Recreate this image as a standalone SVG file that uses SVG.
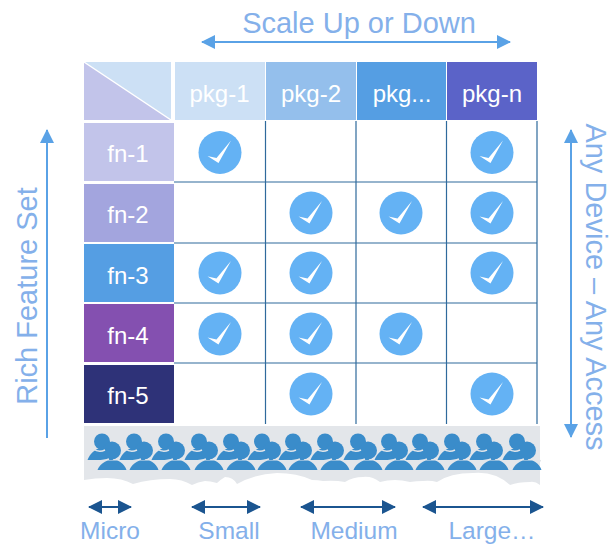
<svg xmlns="http://www.w3.org/2000/svg" width="613" height="545" viewBox="0 0 613 545">
<style>
text{font-family:"Liberation Sans",Arial,sans-serif}
.h{font-size:24px;fill:#fff;text-anchor:middle}
.l{font-size:29px;fill:#84b0ea;text-anchor:middle}
.s{font-size:24.500px;fill:#84b0ea;text-anchor:middle}
.g{stroke:#2f6a9c;stroke-width:1.200;fill:none}
.a{stroke:#5aa2e6;stroke-width:2;fill:none}
.d{stroke:#1b5590;stroke-width:2;fill:none}
</style>
<defs>
<marker id="ah" markerUnits="userSpaceOnUse" viewBox="0 0 14 14" refX="13" refY="7" markerWidth="14" markerHeight="14" orient="auto-start-reverse"><path d="M0 0L14 7L0 14Z" fill="#5aa2e6"/></marker>
<marker id="dh" markerUnits="userSpaceOnUse" viewBox="0 0 14 14" refX="13" refY="7" markerWidth="14" markerHeight="14" orient="auto-start-reverse"><path d="M0 0L14 7L0 14Z" fill="#1b5590"/></marker>
<g id="check"><circle r="21.500" fill="#64b2f4"/><path d="M-12.500 3.500L-3.500 5.500L11-12L-1.500 10.500Z" fill="#fff"/></g>
<g id="pp" fill="#3a8cca">
<path d="M-14.500 18.500C-12 12-8 9-3 6.500L8 6.500L11 18.500Z"/>
<circle cx="0" cy="0" r="8"/>
<circle cx="10" cy="9" r="9"/>
<path d="M-9 7.500Q-3 11.500 3 8.500" stroke="#e3e6ea" stroke-width="1.400" fill="none"/>
<path d="M-5 19.300C0 19.300 3 19.300 7 17.500M14 17.500C18 19 21 19.300 24 19.300" stroke="#e3e6ea" stroke-width="1.500" fill="none"/>
<path d="M-4.500 28.500C-2.500 23 2 20.500 6 19L15 19C19 20.500 22.500 23 24.500 28.500Z"/>
</g>
</defs>
<rect width="613" height="545" fill="#fff"/>

<g id="corner"><path d="M84 62H171V120Z" fill="#cce0f5"/><path d="M84 62V120H171Z" fill="#c2c4ea"/><path d="M84 62L171 120" stroke="#fff" stroke-width="1.500"/></g>
<g id="pkg-1"><rect x="175" y="62" width="90" height="58" fill="#cce0f5"/><text class="h" x="219.500" y="102">pkg-1</text></g>
<g id="pkg-2"><rect x="266" y="62" width="90" height="58" fill="#94bfec"/><text class="h" x="311" y="102">pkg-2</text></g>
<g id="pkg-3"><rect x="357" y="62" width="89" height="58" fill="#559ee3"/><text class="h" x="402" y="102">pkg...</text></g>
<g id="pkg-n"><rect x="447" y="62" width="90" height="58" fill="#5b63c8"/><text class="h" x="492" y="102">pkg-n</text></g>

<g id="fn-1"><rect x="84" y="123" width="90" height="58" fill="#c2c4ea"/><text class="h" x="128" y="162">fn-1</text></g>
<g id="fn-2"><rect x="84" y="184" width="90" height="58" fill="#a3a5de"/><text class="h" x="128" y="223">fn-2</text></g>
<g id="fn-3"><rect x="84" y="244" width="90" height="58" fill="#559ee3"/><text class="h" x="128" y="284">fn-3</text></g>
<g id="fn-4"><rect x="84" y="304" width="90" height="58" fill="#8450b0"/><text class="h" x="128" y="344">fn-4</text></g>
<g id="fn-5"><rect x="84" y="365" width="90" height="58" fill="#2e3278"/><text class="h" x="128" y="404">fn-5</text></g>

<g id="connectors">
<path class="g" d="M174 182H537M174 243H537M174 303H537M174 363H537M265.500 121V424M356 121V424M446.500 121V424M537 121V424"/>
<path class="a" d="M202 42H510" marker-start="url(#ah)" marker-end="url(#ah)"/>
<path class="a" d="M47 438V130" marker-end="url(#ah)"/>
<path class="a" d="M571 130V437" marker-start="url(#ah)" marker-end="url(#ah)"/>
<path class="d" d="M89 507H131" marker-start="url(#dh)" marker-end="url(#dh)"/>
<path class="d" d="M192 507H260" marker-start="url(#dh)" marker-end="url(#dh)"/>
<path class="d" d="M301 507H395" marker-start="url(#dh)" marker-end="url(#dh)"/>
<path class="d" d="M423 507H543" marker-start="url(#dh)" marker-end="url(#dh)"/>
</g>

<g id="checks">
<use href="#check" x="220" y="152.500"/><use href="#check" x="492" y="152.500"/>
<use href="#check" x="311" y="213"/><use href="#check" x="401" y="213"/><use href="#check" x="492" y="213"/>
<use href="#check" x="220" y="273"/><use href="#check" x="311" y="273"/><use href="#check" x="492" y="273"/>
<use href="#check" x="220" y="334"/><use href="#check" x="311" y="334"/><use href="#check" x="401" y="334"/>
<use href="#check" x="311" y="394"/><use href="#check" x="492" y="394"/>
</g>

<g id="crowd">
<path d="M84 426H540V485Q535 481 530 482Q518 482 510 485Q495 471 473 473Q450 473 437 482Q430 480 423 481Q416 481 410 482Q402 480 395 480Q387 480 380 482Q372 476 363 477Q353 477 345 482Q335 480 323 481Q318 480 312 480Q297 473 277 473Q255 474 237 484Q233 477 225 477Q220 480 217 483Q210 481 205 481Q198 482 192 485Q182 479 170 479Q150 479 133 484Q122 478 107 478Q95 478 84 480Z" fill="#e3e6ea"/>
<use href="#pp" x="102" y="441.500"/><use href="#pp" x="134" y="441.500"/><use href="#pp" x="166" y="441.500"/><use href="#pp" x="199" y="441.500"/><use href="#pp" x="231" y="441.500"/><use href="#pp" x="262" y="441.500"/><use href="#pp" x="293" y="441.500"/>
<use href="#pp" x="325" y="441.500"/><use href="#pp" x="358" y="441.500"/><use href="#pp" x="389" y="441.500"/><use href="#pp" x="420" y="441.500"/><use href="#pp" x="452" y="441.500"/><use href="#pp" x="484" y="441.500"/><use href="#pp" x="517" y="441.500"/>
</g>

<g id="labels">
<text class="l" x="359" y="33">Scale Up or Down</text>
<text class="l" transform="translate(36.500 296) rotate(-90)">Rich Feature Set</text>
<text class="l" transform="translate(586 287) rotate(90)">Any Device – Any Access</text>
<text class="s" x="110" y="539">Micro</text>
<text class="s" x="229" y="539">Small</text>
<text class="s" x="354" y="539">Medium</text>
<text class="s" x="492" y="539">Large…</text>
</g>
</svg>
